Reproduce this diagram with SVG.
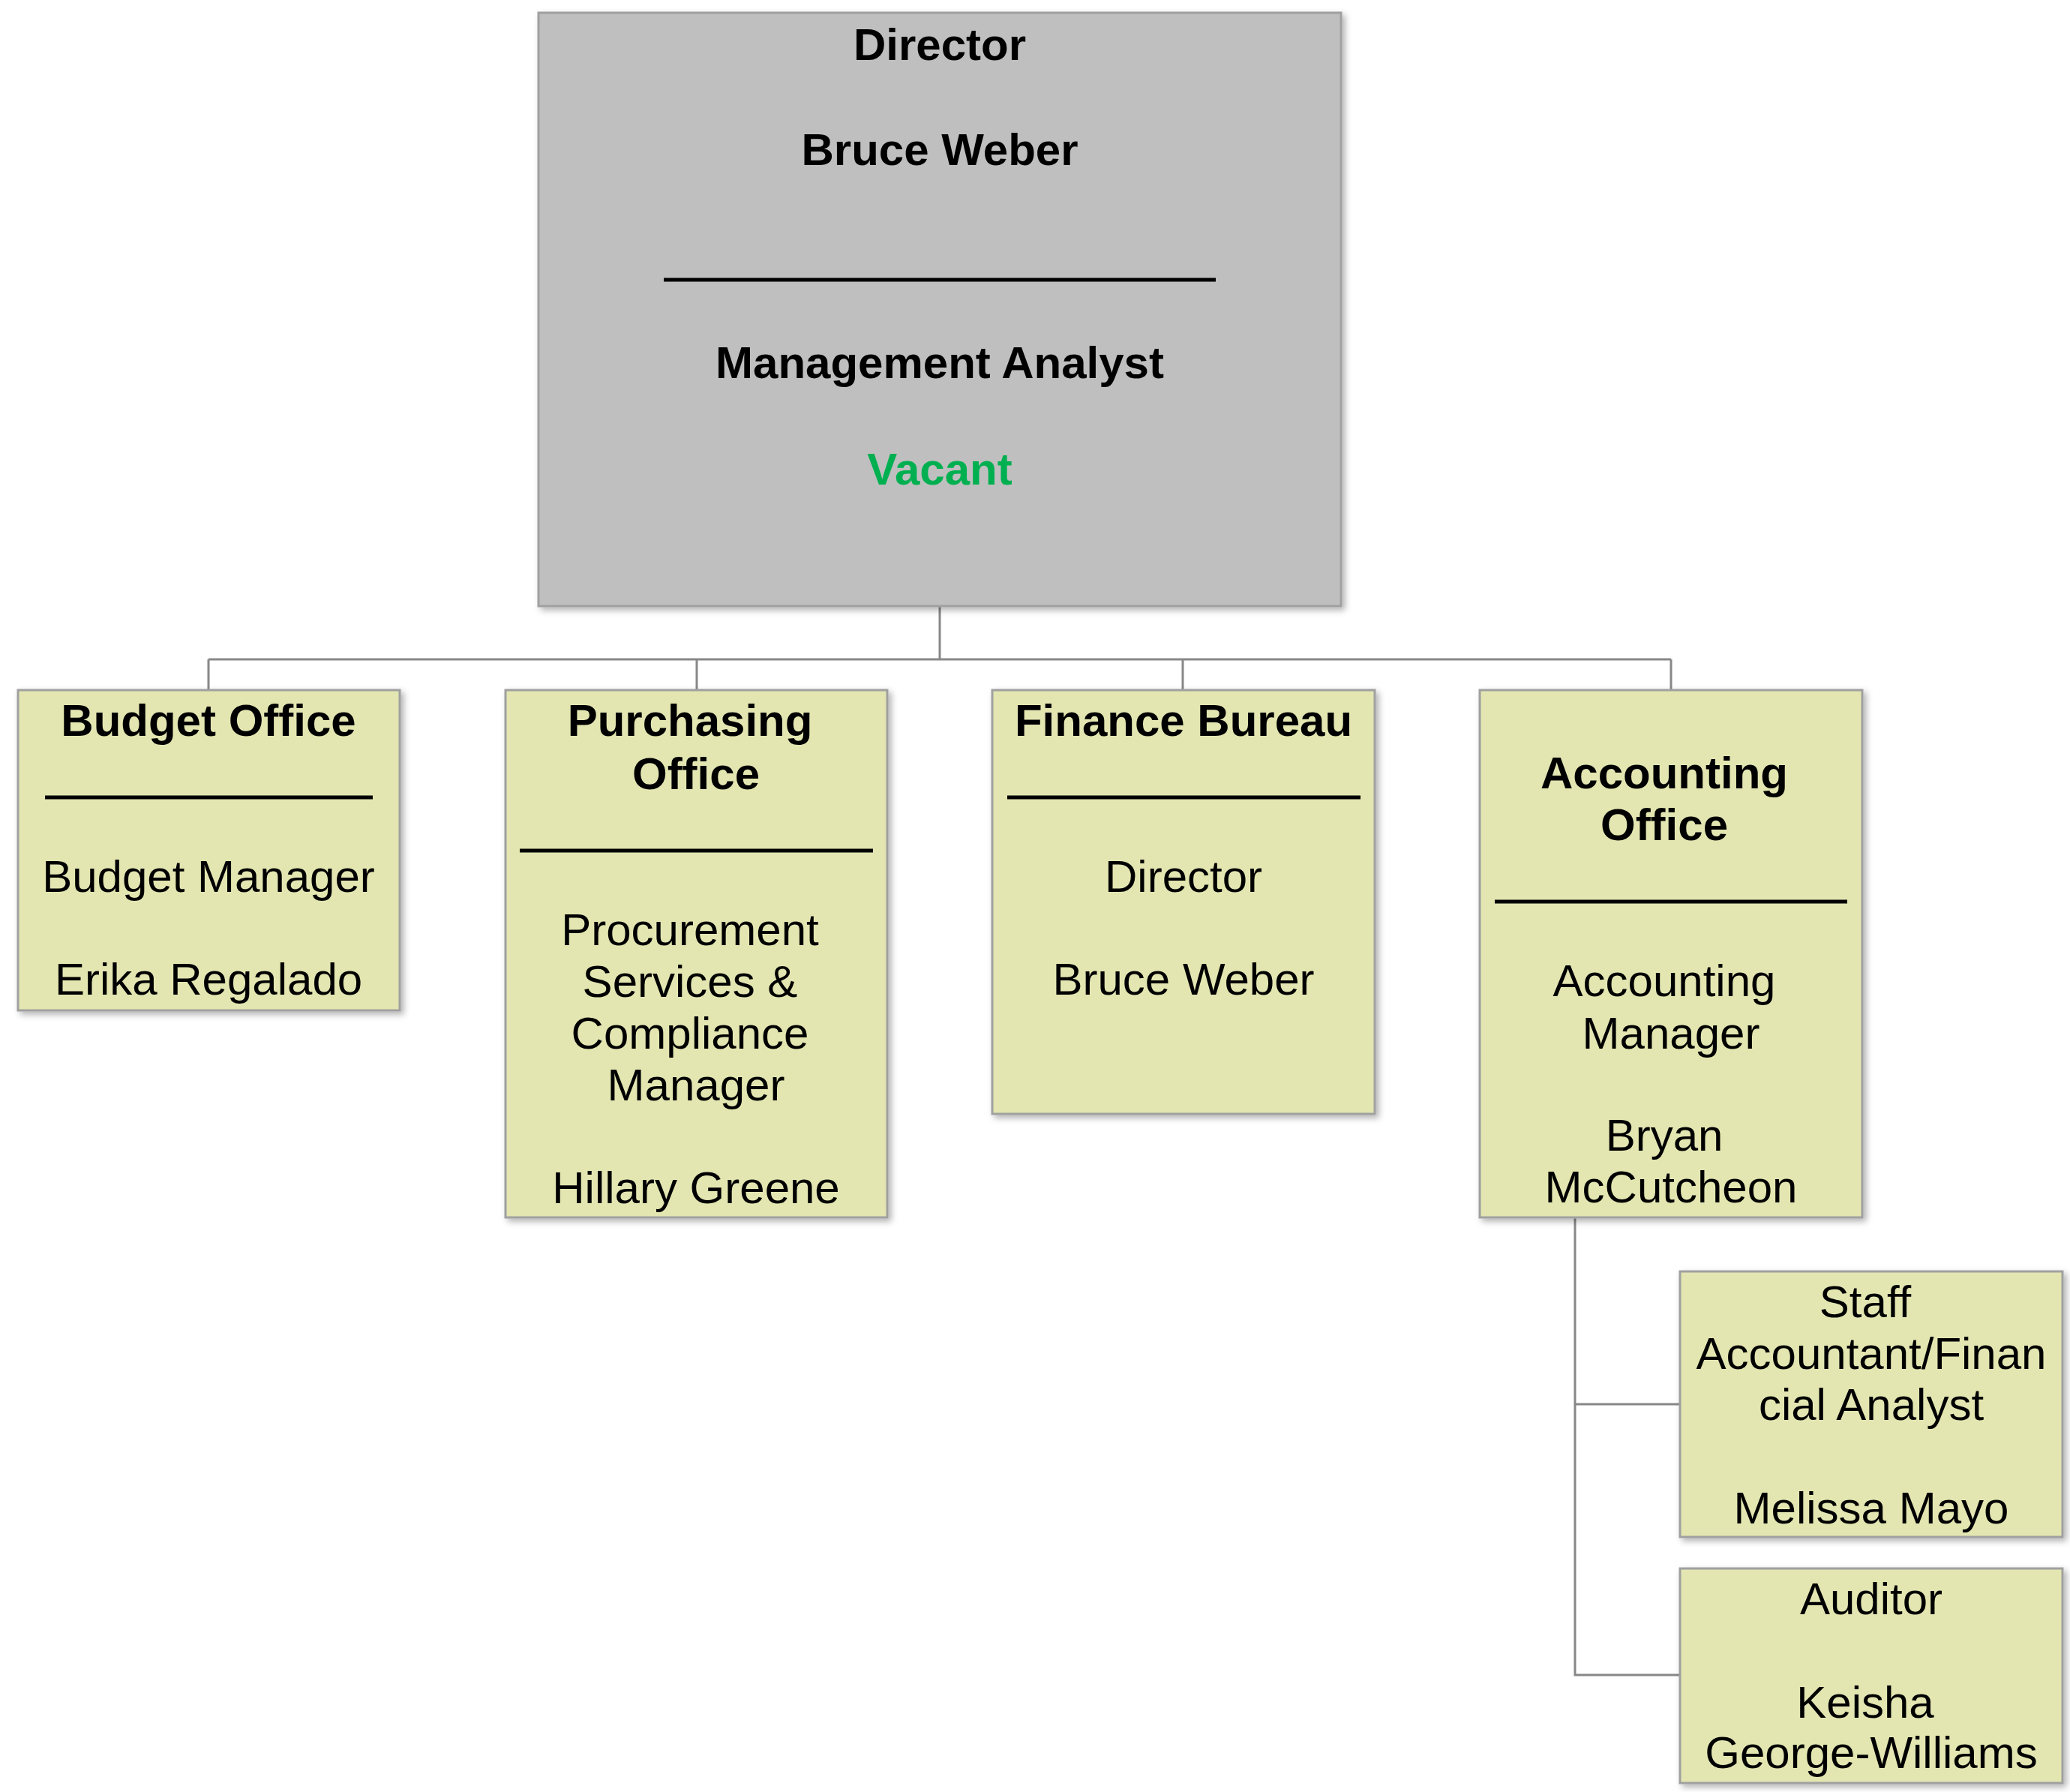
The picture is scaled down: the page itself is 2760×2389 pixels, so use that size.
<svg xmlns="http://www.w3.org/2000/svg" width="2760" height="2389" viewBox="0 0 2760 2389">
<defs>
<filter id="sh" x="-5%" y="-5%" width="115%" height="115%">
<feDropShadow dx="4" dy="4" stdDeviation="4" flood-color="#000" flood-opacity="0.3"/>
</filter>
<style>
.box{fill:#E3E6B1;stroke:#A0A0A0;stroke-width:3;filter:url(#sh)}
.dir{fill:#BFBFBF;stroke:#A0A0A0;stroke-width:3;filter:url(#sh)}
.sep{stroke:#000;stroke-width:5}
.conn{fill:none;stroke:#888888;stroke-width:3}
text{font-family:"Liberation Sans",Arial,sans-serif;font-size:60px;text-anchor:middle;fill:#000}
.b{font-weight:bold}
.g{fill:#00B050}
</style>
</defs>
<rect width="2760" height="2389" fill="#fff"/>
<g id="connectors">
<path class="conn" d="M1253 808V879M278 879H2228M278 879V920M929 879V920M1577 879V920M2228 879V920"/>
<path class="conn" d="M2100 1623V2233H2240M2100 1872H2240"/>
</g>
<g id="director">
<rect class="dir" x="718" y="17" width="1070" height="791"/>
<text class="b" x="1253" y="80">Director</text>
<text class="b" x="1253" y="220">Bruce Weber</text>
<line class="sep" x1="885" y1="373" x2="1621" y2="373"/>
<text class="b" x="1253" y="504">Management Analyst</text>
<text class="b g" x="1253" y="646">Vacant</text>
</g>
<g id="budget">
<rect class="box" x="24" y="920" width="509" height="427"/>
<text class="b" x="278" y="981">Budget Office</text>
<line class="sep" x1="60" y1="1063" x2="497" y2="1063"/>
<text x="278" y="1189">Budget Manager</text>
<text x="278" y="1326">Erika Regalado</text>
</g>
<g id="purchasing">
<rect class="box" x="674" y="920" width="509" height="703"/>
<text class="b" x="920" y="981">Purchasing</text>
<text class="b" x="928" y="1052">Office</text>
<line class="sep" x1="693" y1="1134" x2="1164" y2="1134"/>
<text x="920" y="1260">Procurement</text>
<text x="920" y="1329">Services &amp;</text>
<text x="920" y="1398">Compliance</text>
<text x="928" y="1467">Manager</text>
<text x="928" y="1604">Hillary Greene</text>
</g>
<g id="finance">
<rect class="box" x="1323" y="920" width="510" height="565"/>
<text class="b" x="1578" y="981">Finance Bureau</text>
<line class="sep" x1="1343" y1="1063" x2="1814" y2="1063"/>
<text x="1578" y="1189">Director</text>
<text x="1578" y="1326">Bruce Weber</text>
</g>
<g id="accounting">
<rect class="box" x="1973" y="920" width="510" height="703"/>
<text class="b" x="2219" y="1051">Accounting</text>
<text class="b" x="2219" y="1120">Office</text>
<line class="sep" x1="1993" y1="1202" x2="2463" y2="1202"/>
<text x="2219" y="1328">Accounting</text>
<text x="2228" y="1398">Manager</text>
<text x="2219" y="1534">Bryan</text>
<text x="2228" y="1603">McCutcheon</text>
</g>
<g id="staff">
<rect class="box" x="2240" y="1695" width="510" height="354"/>
<text x="2487" y="1756">Staff</text>
<text x="2495" y="1825">Accountant/Finan</text>
<text x="2495" y="1893">cial Analyst</text>
<text x="2495" y="2031">Melissa Mayo</text>
</g>
<g id="auditor">
<rect class="box" x="2240" y="2091" width="510" height="286"/>
<text x="2495" y="2152">Auditor</text>
<text x="2487" y="2290">Keisha</text>
<text x="2495" y="2357">George-Williams</text>
</g>
</svg>
